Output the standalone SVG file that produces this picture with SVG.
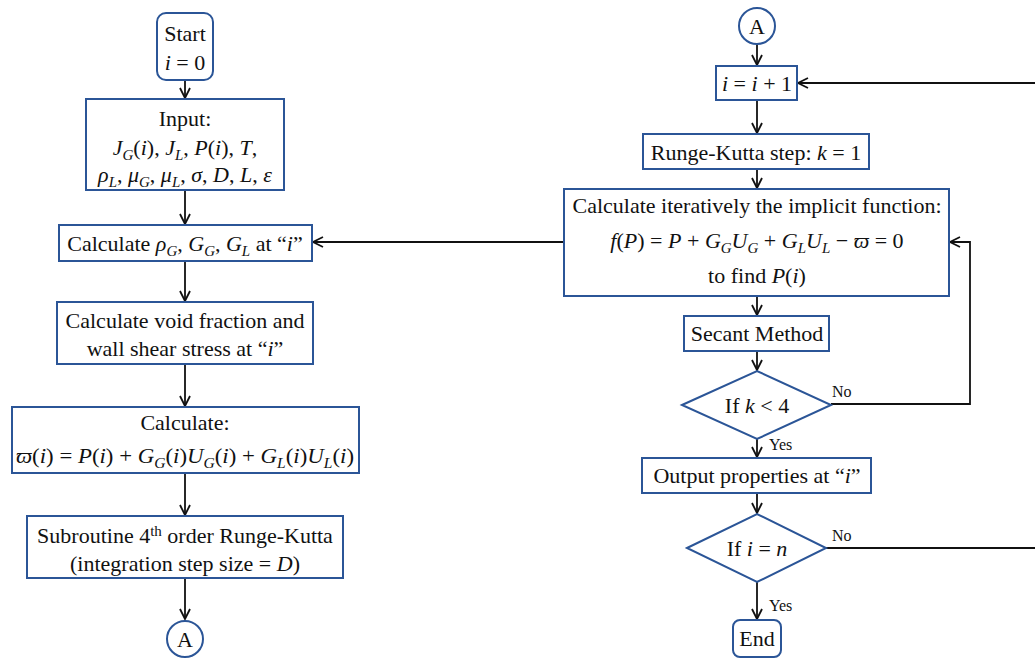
<svg xmlns="http://www.w3.org/2000/svg" width="1035" height="658" viewBox="0 0 1035 658">
<defs>
<style>
.box{fill:#fff;stroke:#2B5597;stroke-width:2}
.t{font-family:"Liberation Serif","Times New Roman",serif;font-size:22px;fill:#111;text-anchor:middle}
.s{font-family:"Liberation Serif","Times New Roman",serif;font-size:16px;fill:#111}
.i{font-style:italic}
.sb{font-size:15px}
.ln{fill:none;stroke:#111;stroke-width:1.8}
</style>
<marker id="ah" markerWidth="12" markerHeight="12" viewBox="0 0 12 12" refX="11" refY="6" orient="auto" markerUnits="userSpaceOnUse">
<path d="M1,1 L11,6 L1,11" fill="none" stroke="#111" stroke-width="1.8"/>
</marker>
</defs>
<rect width="1035" height="658" fill="#fff"/>

<g id="connectors">
<line class="ln" x1="185" y1="80" x2="185" y2="98" marker-end="url(#ah)"/>
<line class="ln" x1="185" y1="190" x2="185" y2="224" marker-end="url(#ah)"/>
<line class="ln" x1="185" y1="261" x2="185" y2="301" marker-end="url(#ah)"/>
<line class="ln" x1="185" y1="364" x2="185" y2="406" marker-end="url(#ah)"/>
<line class="ln" x1="185" y1="473" x2="185" y2="515" marker-end="url(#ah)"/>
<line class="ln" x1="185" y1="578" x2="185" y2="619" marker-end="url(#ah)"/>
<line class="ln" x1="757" y1="44" x2="757" y2="65" marker-end="url(#ah)"/>
<line class="ln" x1="757" y1="100" x2="757" y2="133" marker-end="url(#ah)"/>
<line class="ln" x1="757" y1="169" x2="757" y2="188" marker-end="url(#ah)"/>
<line class="ln" x1="757" y1="296" x2="757" y2="315" marker-end="url(#ah)"/>
<line class="ln" x1="757" y1="351" x2="757" y2="370" marker-end="url(#ah)"/>
<line class="ln" x1="757" y1="439" x2="757" y2="457" marker-end="url(#ah)"/>
<line class="ln" x1="757" y1="493" x2="757" y2="513" marker-end="url(#ah)"/>
<line class="ln" x1="757" y1="582" x2="757" y2="619" marker-end="url(#ah)"/>
<line class="ln" x1="564" y1="242" x2="313" y2="242" marker-end="url(#ah)"/>
<polyline class="ln" points="831,404 970,404 970,242 950,242" marker-end="url(#ah)"/>
<line class="ln" x1="826" y1="548" x2="1040" y2="548"/>
<line class="ln" x1="1040" y1="83" x2="798" y2="83" marker-end="url(#ah)"/>
<text class="s" x="832" y="397">No</text>
<text class="s" x="769" y="450">Yes</text>
<text class="s" x="832" y="541">No</text>
<text class="s" x="769" y="611">Yes</text>
</g>

<g id="start">
<rect class="box" x="157" y="13" width="56" height="67" rx="9"/>
<text class="t" x="185" y="41">Start</text>
<text class="t" x="185" y="70"><tspan class="i">i</tspan> = 0</text>
</g>

<g id="input">
<rect class="box" x="86" y="99" width="198" height="91"/>
<text class="t" x="185" y="126">Input:</text>
<text class="t" x="185" y="155"><tspan class="i">J</tspan><tspan class="i sb" dy="5">G</tspan><tspan dy="-5">(</tspan><tspan class="i">i</tspan>), <tspan class="i">J</tspan><tspan class="i sb" dy="5">L</tspan><tspan dy="-5">, </tspan><tspan class="i">P</tspan>(<tspan class="i">i</tspan>), <tspan class="i">T</tspan>,</text>
<text class="t" x="185" y="182"><tspan class="i">ρ</tspan><tspan class="i sb" dy="5">L</tspan><tspan dy="-5">, </tspan><tspan class="i">μ</tspan><tspan class="i sb" dy="5">G</tspan><tspan dy="-5">, </tspan><tspan class="i">μ</tspan><tspan class="i sb" dy="5">L</tspan><tspan dy="-5">, </tspan><tspan class="i">σ</tspan>, <tspan class="i">D</tspan>, <tspan class="i">L</tspan>,  <tspan class="i">ε</tspan></text>
</g>

<g id="calc-rho">
<rect class="box" x="59" y="225" width="253" height="36"/>
<text class="t" x="185" y="251">Calculate <tspan class="i">ρ</tspan><tspan class="i sb" dy="5">G</tspan><tspan dy="-5">, </tspan><tspan class="i">G</tspan><tspan class="i sb" dy="5">G</tspan><tspan dy="-5">, </tspan><tspan class="i">G</tspan><tspan class="i sb" dy="5">L</tspan><tspan dy="-5"> at “</tspan><tspan class="i">i</tspan>”</text>
</g>

<g id="void">
<rect class="box" x="57" y="302" width="256" height="62"/>
<text class="t" x="185" y="328">Calculate void fraction and</text>
<text class="t" x="185" y="356">wall shear stress at “<tspan class="i">i</tspan>”</text>
</g>

<g id="calc-varpi">
<rect class="box" x="12" y="407" width="347" height="66"/>
<text class="t" x="185" y="430">Calculate:</text>
<text class="t" x="185" y="463" textLength="338" lengthAdjust="spacingAndGlyphs"><tspan class="i">ϖ</tspan>(<tspan class="i">i</tspan>) = <tspan class="i">P</tspan>(<tspan class="i">i</tspan>) + <tspan class="i">G</tspan><tspan class="i sb" dy="5">G</tspan><tspan dy="-5">(</tspan><tspan class="i">i</tspan>)<tspan class="i">U</tspan><tspan class="i sb" dy="5">G</tspan><tspan dy="-5">(</tspan><tspan class="i">i</tspan>) + <tspan class="i">G</tspan><tspan class="i sb" dy="5">L</tspan><tspan dy="-5">(</tspan><tspan class="i">i</tspan>)<tspan class="i">U</tspan><tspan class="i sb" dy="5">L</tspan><tspan dy="-5">(</tspan><tspan class="i">i</tspan>)</text>
</g>

<g id="subroutine">
<rect class="box" x="27" y="516" width="316" height="62"/>
<text class="t" x="185" y="543">Subroutine 4<tspan class="sb" dy="-7">th</tspan><tspan dy="7"> order Runge-Kutta</tspan></text>
<text class="t" x="185" y="571">(integration step size = <tspan class="i">D</tspan>)</text>
</g>

<g id="connector-a-left">
<circle cx="185" cy="639" r="18" fill="#fff" stroke="#2B5597" stroke-width="2"/>
<text class="t" x="185" y="647">A</text>
</g>

<g id="connector-a-right">
<circle cx="757" cy="26" r="18" fill="#fff" stroke="#2B5597" stroke-width="2"/>
<text class="t" x="757" y="34">A</text>
</g>

<g id="increment">
<rect class="box" x="716" y="66" width="81" height="34"/>
<text class="t" x="757" y="91"><tspan class="i">i</tspan> = <tspan class="i">i</tspan> + 1</text>
</g>

<g id="rk-step">
<rect class="box" x="643" y="134" width="226" height="35"/>
<text class="t" x="756" y="160">Runge-Kutta step: <tspan class="i">k</tspan> = 1</text>
</g>

<g id="implicit">
<rect class="box" x="564" y="189" width="385" height="107"/>
<text class="t" x="757" y="213">Calculate iteratively the implicit function:</text>
<text class="t" x="757" y="248"><tspan class="i">f</tspan>(<tspan class="i">P</tspan>) = <tspan class="i">P</tspan> + <tspan class="i">G</tspan><tspan class="i sb" dy="5">G</tspan><tspan class="i" dy="-5">U</tspan><tspan class="i sb" dy="5">G</tspan><tspan dy="-5"> + </tspan><tspan class="i">G</tspan><tspan class="i sb" dy="5">L</tspan><tspan class="i" dy="-5">U</tspan><tspan class="i sb" dy="5">L</tspan><tspan dy="-5"> − </tspan><tspan class="i">ϖ</tspan> = 0</text>
<text class="t" x="757" y="283">to find <tspan class="i">P</tspan>(<tspan class="i">i</tspan>)</text>
</g>

<g id="secant">
<rect class="box" x="684" y="316" width="145" height="35"/>
<text class="t" x="757" y="341">Secant Method</text>
</g>

<g id="if-k">
<polygon class="box" points="682,405 757,371 831,405 757,439"/>
<text class="t" x="757" y="413">If <tspan class="i">k</tspan> &lt; 4</text>
</g>

<g id="output">
<rect class="box" x="642" y="458" width="229" height="35"/>
<text class="t" x="757" y="483">Output properties at “<tspan class="i">i</tspan>”</text>
</g>

<g id="if-i">
<polygon class="box" points="687,548 757,514 826,548 757,582"/>
<text class="t" x="757" y="556">If <tspan class="i">i</tspan> = <tspan class="i">n</tspan></text>
</g>

<g id="end">
<rect class="box" x="733" y="620" width="48" height="37" rx="7"/>
<text class="t" x="757" y="646">End</text>
</g>
</svg>
